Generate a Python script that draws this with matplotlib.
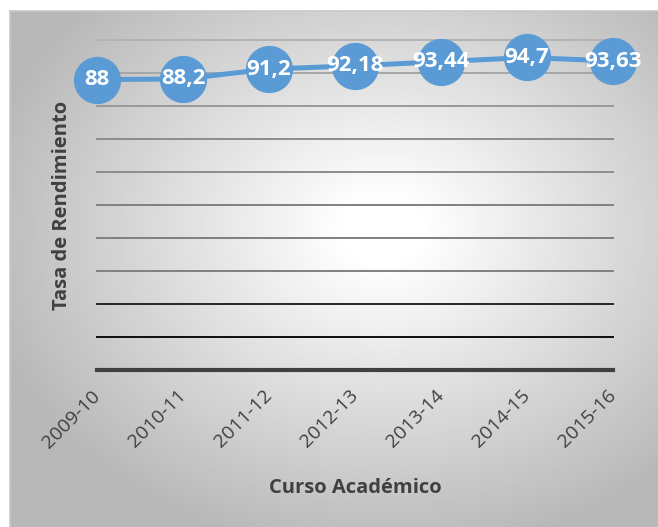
import numpy as np
import matplotlib
matplotlib.use("Agg")
from matplotlib import pyplot as plt
from matplotlib.transforms import ScaledTranslation

# Data
cursos = ['2009-10', '2010-11', '2011-12', '2012-13', '2013-14', '2014-15', '2015-16']
tasa = [88, 88.2, 91.2, 92.18, 93.44, 94.7, 93.63]
etiquetas = ['88', '88,2', '91,2', '92,18', '93,44', '94,7', '93,63']
y_ticks = [0, 10, 20, 30, 40, 50, 60, 70, 80, 90, 100]

plt.rcParams['font.family'] = ['Open Sans', 'DejaVu Sans']

W, H = 658, 527
fig = plt.figure(figsize=(W / 100, H / 100), dpi=100)
fig.patch.set_facecolor('white')

# Radial gradient background of the chart area
bg = fig.add_axes([10 / W, 0, 648 / W, 516 / H])
xx, yy = np.meshgrid(np.linspace(-1, 1, 400), np.linspace(-1, 1, 320))
r = np.sqrt(((xx - 0.15) / 1.0) ** 2 + ((yy + 0.15) / 1.0) ** 2)
shade = 1 - 0.28 * np.clip((r - 0.12) / 1.15, 0, 1)
bg.imshow(shade, cmap='gray', vmin=0, vmax=1, aspect='auto', extent=[0, 1, 0, 1])
bg.set_xticks([])
bg.set_yticks([])
for s in bg.spines.values():
    s.set_color('#c8c8c8')
    s.set_linewidth(1.2)
bg.spines['right'].set_visible(False)
bg.spines['bottom'].set_visible(False)

ax = fig.add_axes([97 / W, (H - 370) / H, (613 - 97) / W, 330 / H])
ax.patch.set_alpha(0)
ax.set_xlim(0, len(cursos) - 1)
ax.set_ylim(0, 100)

# gridlines get darker toward the bottom, like the original
grid_cols = ['#404040', '#0d0d0d', '#262626', '#808080', '#7f7f7f', '#808080',
             '#8c8c8c', '#8c8c8c', '#999999', '#a6a6a6', '#b3b3b3']
for v, c in zip(y_ticks, grid_cols):
    ax.axhline(v, color=c, lw=3.0 if v == 0 else 1.4, zorder=1, clip_on=False)

x = np.arange(len(cursos))
ax.plot(x, tasa, color='#5b9bd5', lw=3.6, marker='o', markersize=33,
        markerfacecolor='#5b9bd5', markeredgecolor='#5b9bd5', clip_on=False, zorder=3)
for xi, yi, t in zip(x, tasa, etiquetas):
    ax.text(xi, yi, t, color='white', fontsize=16, fontweight='bold',
            ha='center', va='center', zorder=4)

for s in ax.spines.values():
    s.set_visible(False)
ax.set_yticks([])
ax.set_xticks(x)
ax.set_xticklabels(cursos, rotation=45, ha='right', rotation_mode='anchor',
                   fontsize=14, color='#404040')
ax.tick_params(axis='x', length=0, pad=12)
shift = ScaledTranslation(-6 / 100, 0, fig.dpi_scale_trans)
for lbl in ax.get_xticklabels():
    lbl.set_transform(lbl.get_transform() + shift)

ax.set_xlabel('Curso Académico', fontsize=14.5, fontweight='bold', color='#404040')
ax.set_ylabel('Tasa de Rendimiento', fontsize=14.5, fontweight='bold', color='#404040')
ax.xaxis.set_label_coords(0.5, -(488 - 370) / 330)
ax.yaxis.set_label_coords(-(97 - 62) / 516, 0.5)
ax.xaxis.label.set_va('center')
ax.yaxis.label.set_va('center')

fig.savefig('out.png', dpi=100)
